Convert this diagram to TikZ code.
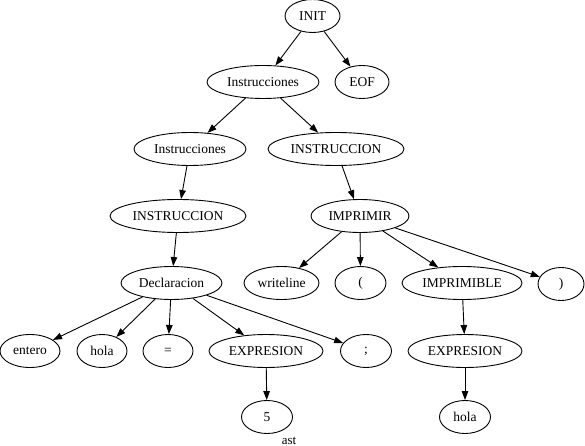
\documentclass[tikz,border=0pt]{standalone}
\usepackage{fontspec}
\setmainfont{Liberation Serif}
\usetikzlibrary{shapes.geometric,arrows.meta}
\tikzset{
  gv/.style={draw, ellipse, line width=0.9pt, inner sep=0pt, minimum height=33pt, font=\fontsize{13.5}{15}\selectfont},
  edge/.style={line width=0.9pt, -{Triangle[length=9pt,width=6.5pt]}}
}
\begin{document}
\begin{tikzpicture}[x=1pt,y=-1pt]
\useasboundingbox (0,0) rectangle (585,446);
\node[gv, minimum width=55pt]  (init)  at (312.5,16) {INIT};
\node[gv, minimum width=112pt] (ins1)  at (263,82) {Instrucciones};
\node[gv, minimum width=54pt]  (eof)   at (362,82) {EOF};
\node[gv, minimum width=112pt] (ins2)  at (190,149) {Instrucciones};
\node[gv, minimum width=136pt] (insR)  at (336,149) {INSTRUCCION};
\node[gv, minimum width=136pt] (insL)  at (178,216) {INSTRUCCION};
\node[gv, minimum width=98pt]  (impr)  at (360,216) {IMPRIMIR};
\node[gv, minimum width=101pt] (decl)  at (171.5,283) {Declaracion};
\node[gv, minimum width=75pt]  (wl)    at (281.5,283) {writeline};
\node[gv, minimum width=51pt]  (lp)    at (360.5,283) {(};
\node[gv, minimum width=120pt] (imb)   at (462,283) {IMPRIMIBLE};
\node[gv, minimum width=46pt]  (rp)    at (561,284) {)};
\node[gv, minimum width=60pt]  (ent)   at (30,351) {entero};
\node[gv, minimum width=50pt]  (hola)  at (102,351) {hola};
\node[gv, minimum width=50pt]  (eq)    at (168,351) {=};
\node[gv, minimum width=114pt] (exL)   at (266,351) {EXPRESION};
\node[gv, minimum width=51pt]  (sc)    at (366,351) {;};
\node[gv, minimum width=114pt] (exR)   at (465,351) {EXPRESION};
\node[gv, minimum width=51pt]  (five)  at (267,417) {5};
\node[gv, minimum width=51pt]  (hola2) at (465,417) {hola};
\node[inner sep=0pt, anchor=north, font=\fontsize{13}{15}\selectfont] (ast) at (289,437) {ast};
\draw[edge] (init) -- (ins1);
\draw[edge] (init) -- (eof);
\draw[edge] (ins1) -- (ins2);
\draw[edge] (ins1) -- (insR);
\draw[edge] (ins2) -- (insL);
\draw[edge] (insL) -- (decl);
\draw[edge] (insR) -- (impr);
\draw[edge] (impr) -- (wl);
\draw[edge] (impr) -- (lp);
\draw[edge] (impr) -- (imb);
\draw[edge] (impr) -- (rp);
\draw[edge] (decl) -- (ent);
\draw[edge] (decl) -- (hola);
\draw[edge] (decl) -- (eq);
\draw[edge] (decl) -- (exL);
\draw[edge] (decl) -- (sc);
\draw[edge] (exL) -- (five);
\draw[edge] (imb) -- (exR);
\draw[edge] (exR) -- (hola2);
\end{tikzpicture}
\end{document}
